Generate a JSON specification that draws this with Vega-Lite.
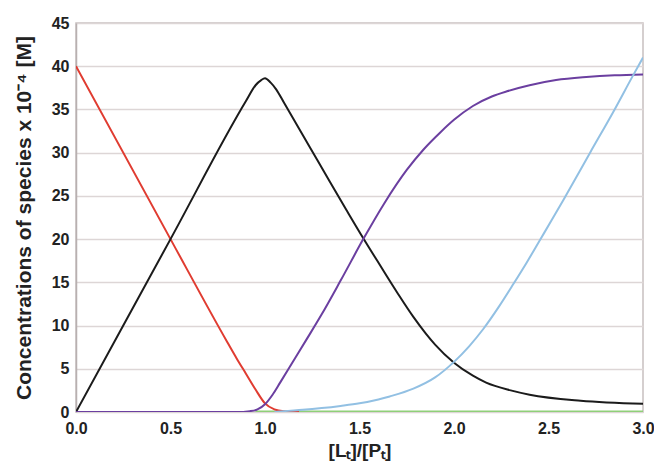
{
  "$schema": "https://vega.github.io/schema/vega-lite/v6.json",
  "width": 567,
  "height": 389,
  "autosize": "none",
  "padding": {"left": 76, "top": 23, "right": 11, "bottom": 49},
  "background": "white",
  "config": {"view": {"stroke": "#c8c0c0", "strokeWidth": 1.5}, "font": "Liberation Sans"},
  "data": {"values": [
    {"s": "green", "x": 0.95, "y": 0.05}, {"s": "green", "x": 3.0, "y": 0.05},
    {"s": "red", "x": 0, "y": 40}, {"s": "red", "x": 0.5, "y": 20}, {"s": "red", "x": 0.8, "y": 8.1}, {"s": "red", "x": 0.85, "y": 6.2}, {"s": "red", "x": 0.9, "y": 4.4}, {"s": "red", "x": 0.95, "y": 2.6}, {"s": "red", "x": 1.0, "y": 1.0}, {"s": "red", "x": 1.05, "y": 0.3}, {"s": "red", "x": 1.1, "y": 0.08}, {"s": "red", "x": 1.18, "y": 0},
    {"s": "black", "x": 0, "y": 0}, {"s": "black", "x": 0.5, "y": 20}, {"s": "black", "x": 0.9, "y": 36}, {"s": "black", "x": 0.95, "y": 37.8}, {"s": "black", "x": 0.98, "y": 38.4}, {"s": "black", "x": 1.0, "y": 38.6}, {"s": "black", "x": 1.03, "y": 38.1}, {"s": "black", "x": 1.06, "y": 37.3}, {"s": "black", "x": 1.1, "y": 35.8}, {"s": "black", "x": 1.238, "y": 30.6}, {"s": "black", "x": 1.344, "y": 26.6}, {"s": "black", "x": 1.43, "y": 23.4}, {"s": "black", "x": 1.52, "y": 20.1}, {"s": "black", "x": 1.608, "y": 17.0}, {"s": "black", "x": 1.7, "y": 13.8}, {"s": "black", "x": 1.785, "y": 11.0}, {"s": "black", "x": 1.85, "y": 9.1}, {"s": "black", "x": 1.9, "y": 7.8}, {"s": "black", "x": 2.0, "y": 5.7}, {"s": "black", "x": 2.1, "y": 4.2}, {"s": "black", "x": 2.17, "y": 3.4}, {"s": "black", "x": 2.3, "y": 2.5}, {"s": "black", "x": 2.4, "y": 2.0}, {"s": "black", "x": 2.67, "y": 1.3}, {"s": "black", "x": 3.0, "y": 0.95},
    {"s": "purple", "x": 0, "y": 0}, {"s": "purple", "x": 0.85, "y": 0}, {"s": "purple", "x": 0.92, "y": 0.1}, {"s": "purple", "x": 0.96, "y": 0.3}, {"s": "purple", "x": 1.0, "y": 0.9}, {"s": "purple", "x": 1.04, "y": 2.0}, {"s": "purple", "x": 1.08, "y": 3.4}, {"s": "purple", "x": 1.15, "y": 5.9}, {"s": "purple", "x": 1.22, "y": 8.4}, {"s": "purple", "x": 1.3, "y": 11.3}, {"s": "purple", "x": 1.4, "y": 15.2}, {"s": "purple", "x": 1.52, "y": 20.0}, {"s": "purple", "x": 1.63, "y": 24.1}, {"s": "purple", "x": 1.75, "y": 28.0}, {"s": "purple", "x": 1.84, "y": 30.4}, {"s": "purple", "x": 1.93, "y": 32.4}, {"s": "purple", "x": 2.0, "y": 33.8}, {"s": "purple", "x": 2.1, "y": 35.4}, {"s": "purple", "x": 2.2, "y": 36.5}, {"s": "purple", "x": 2.28, "y": 37.1}, {"s": "purple", "x": 2.4, "y": 37.8}, {"s": "purple", "x": 2.54, "y": 38.4}, {"s": "purple", "x": 2.7, "y": 38.75}, {"s": "purple", "x": 2.85, "y": 38.95}, {"s": "purple", "x": 3.0, "y": 39.05},
    {"s": "blue", "x": 1.05, "y": 0}, {"s": "blue", "x": 1.1, "y": 0.1}, {"s": "blue", "x": 1.2, "y": 0.25}, {"s": "blue", "x": 1.3, "y": 0.45}, {"s": "blue", "x": 1.4, "y": 0.7}, {"s": "blue", "x": 1.5, "y": 1.0}, {"s": "blue", "x": 1.6, "y": 1.45}, {"s": "blue", "x": 1.66, "y": 1.8}, {"s": "blue", "x": 1.785, "y": 2.7}, {"s": "blue", "x": 1.9, "y": 4.0}, {"s": "blue", "x": 2.0, "y": 5.8}, {"s": "blue", "x": 2.08, "y": 7.6}, {"s": "blue", "x": 2.155, "y": 9.6}, {"s": "blue", "x": 2.235, "y": 12.1}, {"s": "blue", "x": 2.314, "y": 14.8}, {"s": "blue", "x": 2.385, "y": 17.3}, {"s": "blue", "x": 2.455, "y": 19.9}, {"s": "blue", "x": 2.517, "y": 22.2}, {"s": "blue", "x": 2.578, "y": 24.5}, {"s": "blue", "x": 2.72, "y": 30.0}, {"s": "blue", "x": 2.85, "y": 35.0}, {"s": "blue", "x": 2.949, "y": 39.0}, {"s": "blue", "x": 3.0, "y": 41.0}
  ]},
  "mark": {"type": "line", "strokeWidth": 2, "interpolate": "monotone", "clip": true},
  "encoding": {
    "x": {"field": "x", "type": "quantitative",
      "scale": {"domain": [0, 3], "nice": false, "zero": false},
      "axis": {"values": [0, 0.5, 1, 1.5, 2, 2.5, 3], "format": ".1f", "grid": false, "ticks": false, "domain": false,
        "labelFontSize": 16, "labelFontWeight": "bold", "labelColor": "#222", "labelPadding": 8, "labelFlush": false,
        "title": "[Lₜ]/[Pₜ]", "titleFontSize": 19, "titleFontWeight": "bold", "titleColor": "#222", "titlePadding": 5}},
    "y": {"field": "y", "type": "quantitative",
      "scale": {"domain": [0, 45], "nice": false},
      "axis": {"values": [0, 5, 10, 15, 20, 25, 30, 35, 40, 45], "grid": true, "gridColor": "#ddd6d6", "gridWidth": 1.5, "ticks": false,
        "domainColor": "#b8b0b0", "domainWidth": 1.5,
        "labelFontSize": 16, "labelFontWeight": "bold", "labelColor": "#222", "labelPadding": 7,
        "title": "Concentrations of species x 10⁻⁴ [M]", "titleFontSize": 21, "titleFontWeight": "bold", "titleColor": "#222", "titlePadding": 17}},
    "color": {"field": "s", "type": "nominal",
      "scale": {"domain": ["green", "red", "black", "purple", "blue"], "range": ["#8fcf78", "#e03c31", "#1b1b1b", "#6b3fa0", "#92c0e3"]},
      "legend": null}
  }
}
